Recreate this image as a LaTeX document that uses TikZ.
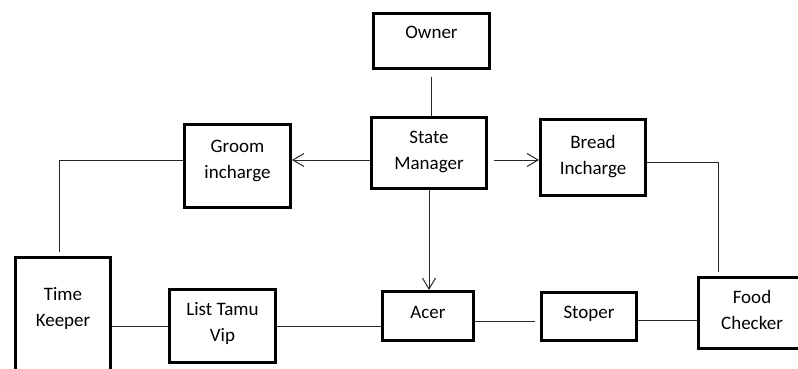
\documentclass[tikz,border=0pt]{standalone}
\usepackage{fontspec}
\setmainfont{Carlito}
\usepackage{tikz}
\usetikzlibrary{arrows.meta}
\tikzstyle{kotak}=[rectangle, draw=black, line width=3pt, align=center, inner sep=2pt, text height=13pt, font=\fontsize{19}{26}\selectfont]
\tikzstyle{duabaris}=[kotak, text height=39pt]
\tikzstyle{garis}=[line width=1pt, draw=black!85]
\tikzstyle{panah}=[garis, -{Straight Barb[length=11pt, width=13pt]}]

\begin{document}
\begin{tikzpicture}[x=1pt, y=-1pt]
			\useasboundingbox (0,0) rectangle (798,369);
			\clip (0,0) rectangle (798,369);
			% baris atas
			\node[kotak, minimum width=116, minimum height=55, text depth=17pt] (owner) at (431.5,41) {Owner};
			\node[duabaris, minimum width=115, minimum height=71, text depth=7pt] (sm) at (429,153) {State\\Manager};
			\node[duabaris, minimum width=106, minimum height=83, text depth=15pt] (groom) at (237.5,166) {Groom\\incharge};
			\node[duabaris, minimum width=105, minimum height=76, text depth=6pt] (bread) at (593,157.5) {Bread\\Incharge};
			% baris bawah
			\node[duabaris, minimum width=95, minimum height=142.5, text depth=44.5pt] (tk) at (63,328.75) {Time\\Keeper};
			\node[duabaris, minimum width=106, minimum height=73, text depth=9pt] (list) at (222.5,326) {List Tamu\\Vip};
			\node[kotak, minimum width=91, minimum height=49, text depth=9pt] (acer) at (428,316) {Acer};
			\node[kotak, minimum width=95, minimum height=48, text depth=10pt] (stoper) at (589,316.5) {Stoper};
			\node[duabaris, minimum width=107, minimum height=71, text depth=7pt] (food) at (752,313) {Food\\Checker};
			\path[garis, shorten <=7pt]
				(owner.south) -- (owner.south |- sm.north);
			\path[panah]
				([yshift=-7pt]sm.west) -- ([yshift=-7pt]sm.west -| groom.east);
			\path[panah, shorten <=6pt]
				([yshift=-7pt]sm.east) -- ([yshift=-7pt]sm.east -| bread.west);
			\path[panah]
				(sm.south) -- (sm.south |- acer.north);
			\path[garis, shorten >=4pt]
				([yshift=6pt]groom.west) -| ([xshift=-4pt]tk.north);
			\path[garis, shorten >=4pt]
				([yshift=-4.5pt]bread.east) -| ([xshift=-34pt]food.north);
			\path[garis]
				(list.west) -- (list.west -| tk.east)
				(list.east) -- (list.east -| acer.west);
			\path[garis, shorten >=5pt]
				([yshift=-5pt]acer.east) -- ([yshift=-5pt]acer.east -| stoper.west);
			\path[garis]
				([yshift=-3.5pt]stoper.east) -- ([yshift=-3.5pt]stoper.east -| food.west);
		\end{tikzpicture}
\end{document}
